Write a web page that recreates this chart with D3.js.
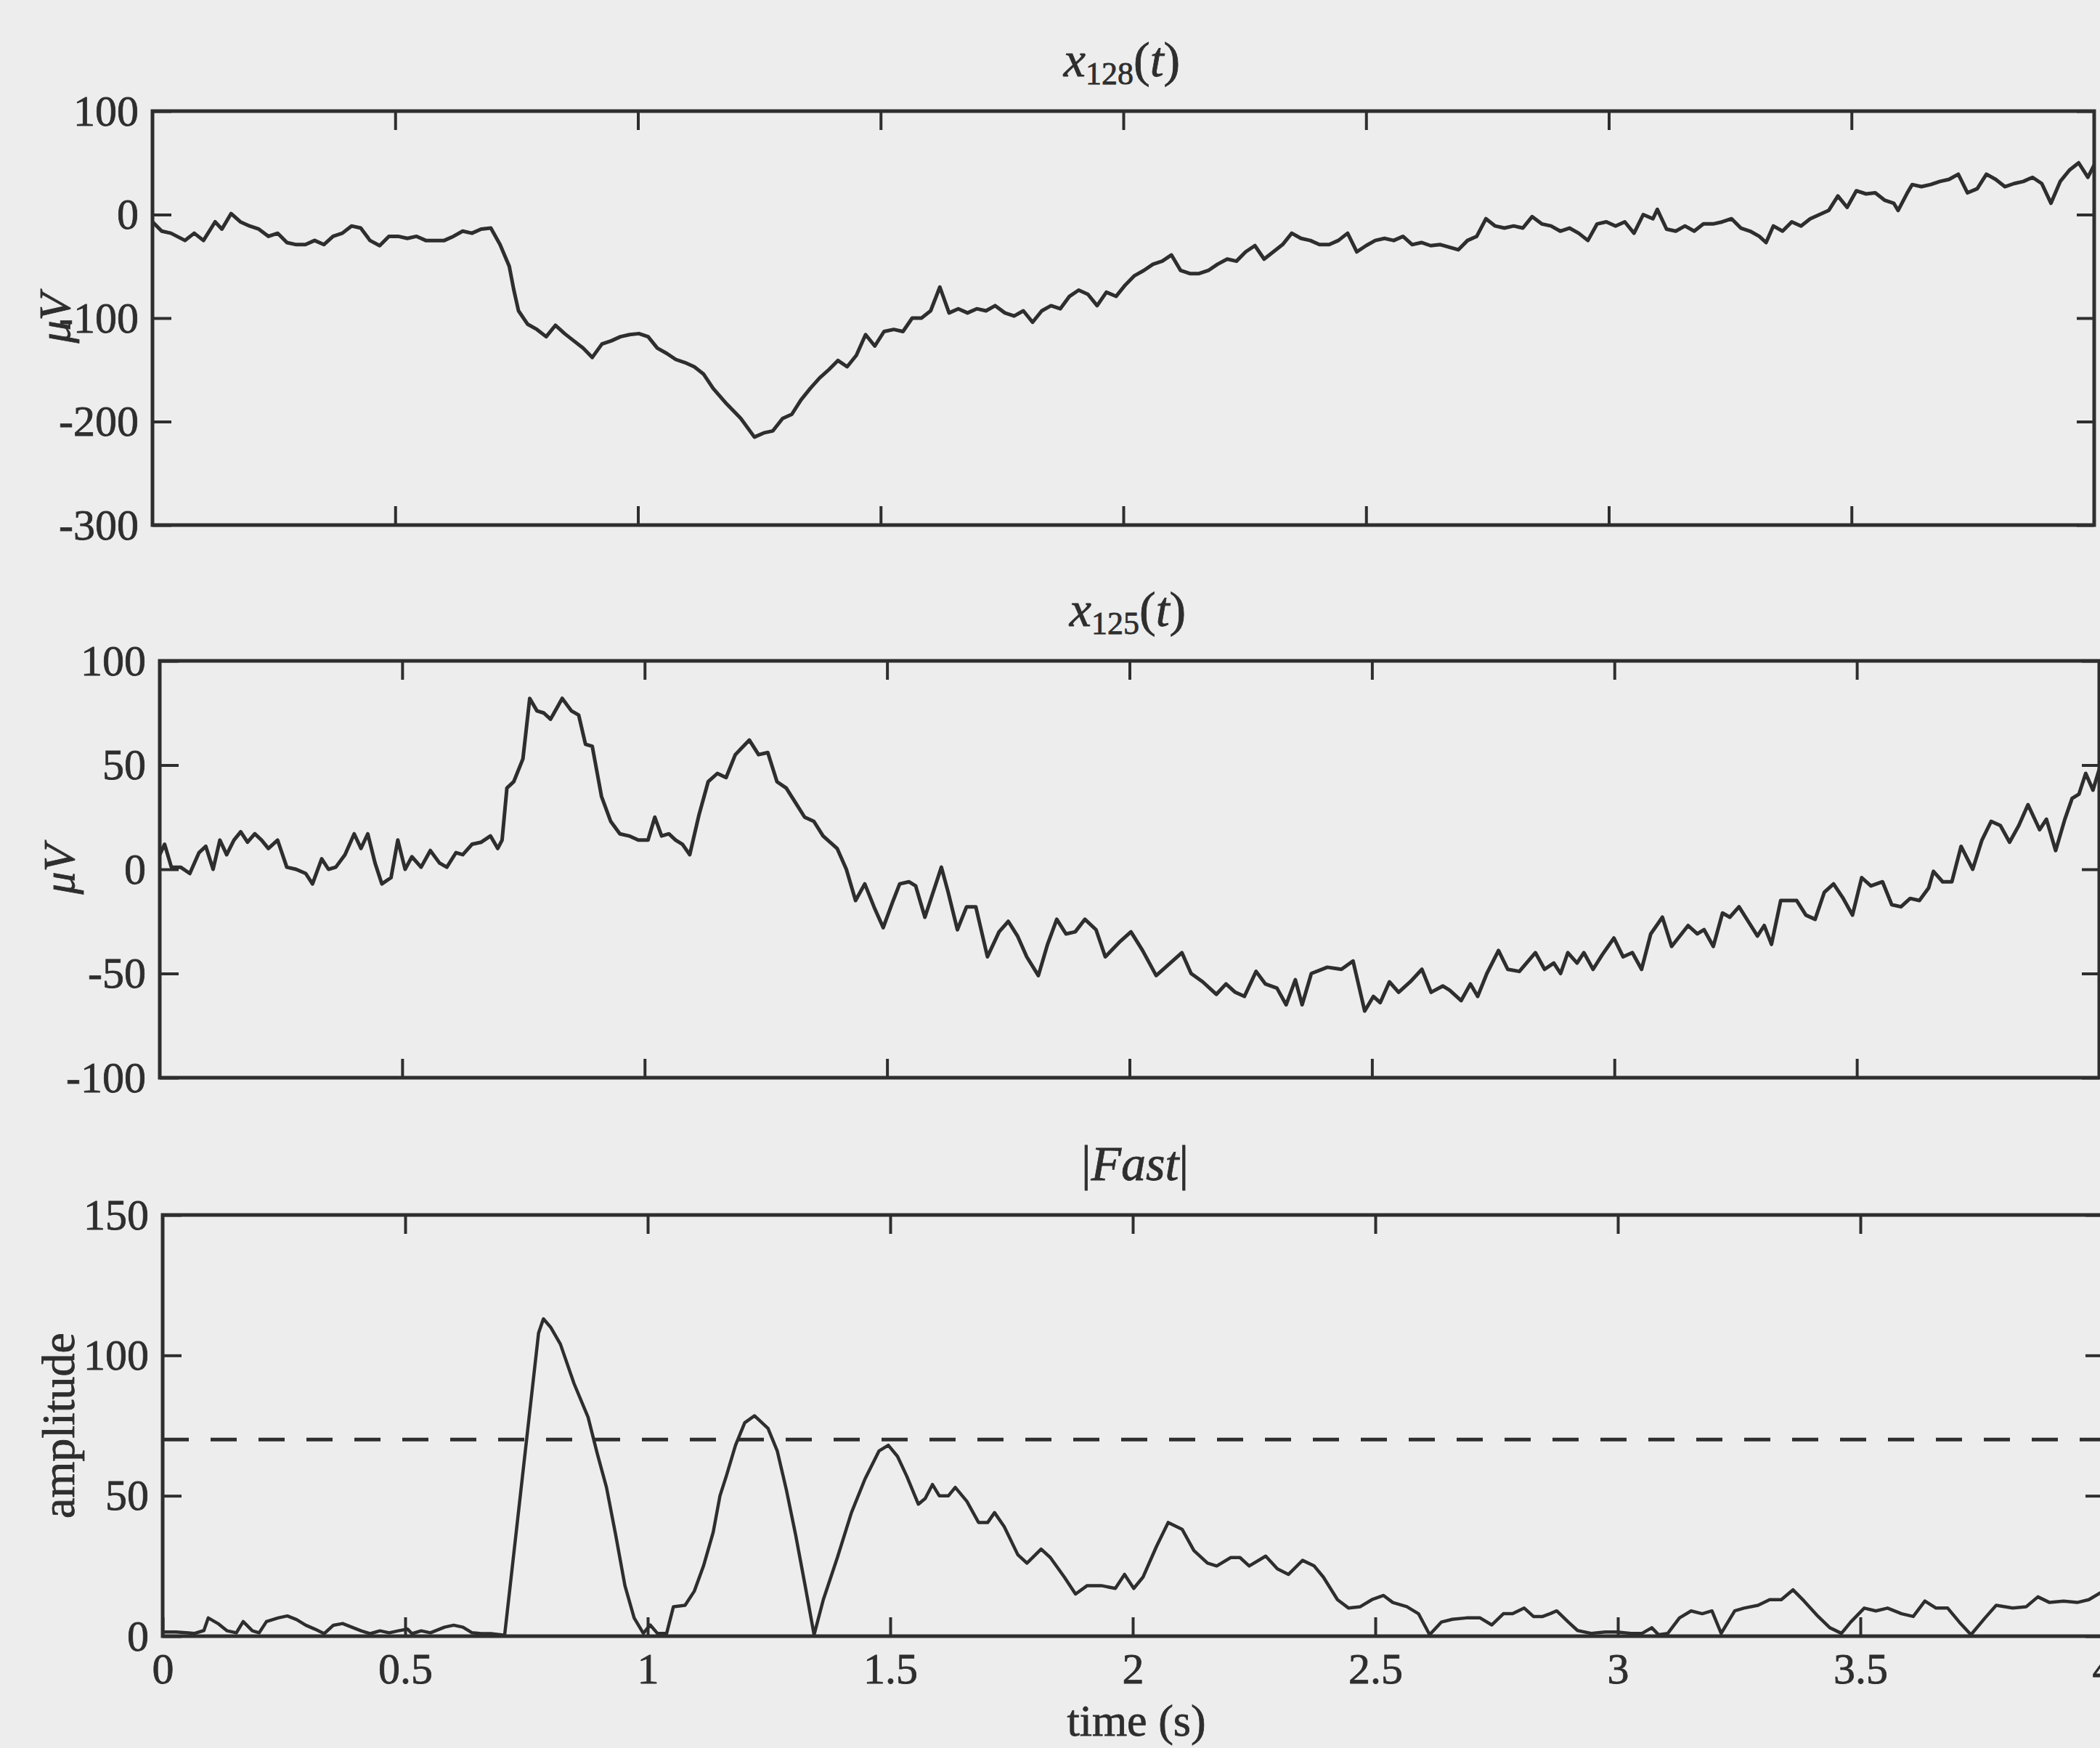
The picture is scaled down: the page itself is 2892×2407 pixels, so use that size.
<!DOCTYPE html>
<html>
<head>
<meta charset="utf-8">
<script src="https://cdn.jsdelivr.net/npm/d3@7"></script>
<style>
  html, body { margin: 0; padding: 0; background: #ededed; }
  svg { display: block; }
</style>
</head>
<body>
<svg id="chart" width="2892" height="2407"></svg>
<script>
// ---- Channel x128(t), microvolts ----
const x128Time = [0,0.019,0.038,0.067,0.086,0.105,0.129,0.143,0.162,0.181,0.2,0.219,0.239,0.258,0.277,0.296,0.315,0.334,0.353,0.372,0.391,0.41,0.429,0.448,0.468,0.487,0.506,0.525,0.544,0.563,0.582,0.601,0.62,0.639,0.658,0.677,0.697,0.716,0.735,0.744,0.754,0.773,0.792,0.811,0.83,0.849,0.868,0.887,0.906,0.926,0.945,0.964,0.983,1.002,1.021,1.04,1.059,1.078,1.097,1.116,1.135,1.155,1.183,1.212,1.24,1.259,1.278,1.298,1.317,1.336,1.355,1.374,1.393,1.412,1.431,1.45,1.469,1.488,1.507,1.527,1.546,1.565,1.584,1.603,1.622,1.641,1.66,1.679,1.698,1.717,1.736,1.756,1.775,1.794,1.813,1.832,1.851,1.87,1.889,1.908,1.927,1.946,1.965,1.985,2.004,2.023,2.042,2.061,2.08,2.099,2.118,2.137,2.156,2.175,2.194,2.214,2.233,2.252,2.271,2.29,2.309,2.328,2.347,2.366,2.385,2.404,2.424,2.443,2.462,2.481,2.5,2.519,2.538,2.557,2.576,2.595,2.614,2.633,2.653,2.69,2.709,2.728,2.747,2.766,2.785,2.804,2.823,2.842,2.862,2.881,2.9,2.919,2.938,2.957,2.976,2.995,3.014,3.033,3.052,3.071,3.091,3.1,3.119,3.138,3.157,3.176,3.195,3.215,3.234,3.253,3.272,3.291,3.31,3.324,3.339,3.358,3.377,3.396,3.415,3.434,3.453,3.472,3.491,3.51,3.53,3.549,3.568,3.587,3.596,3.615,3.625,3.644,3.663,3.682,3.701,3.72,3.739,3.759,3.778,3.797,3.816,3.835,3.854,3.873,3.892,3.911,3.93,3.949,3.968,3.987,4.0];
const x128Values = [-7,-16,-18,-25,-18,-25,-7,-14,1,-7,-11,-14,-21,-18,-27,-29,-29,-25,-29,-21,-18,-11,-13,-25,-30,-21,-21,-23,-21,-25,-25,-25,-21,-16,-18,-14,-13,-29,-50,-72,-93,-106,-111,-118,-107,-115,-122,-129,-138,-125,-122,-118,-116,-115,-118,-129,-134,-140,-143,-147,-154,-168,-183,-197,-215,-211,-209,-197,-193,-179,-168,-158,-150,-141,-147,-136,-116,-127,-113,-111,-113,-100,-100,-93,-70,-95,-91,-95,-91,-93,-88,-95,-98,-93,-104,-93,-88,-91,-79,-73,-77,-88,-75,-79,-68,-59,-54,-48,-45,-39,-54,-57,-57,-54,-48,-43,-45,-36,-30,-43,-36,-29,-18,-23,-25,-29,-29,-25,-18,-36,-30,-25,-23,-25,-21,-29,-27,-30,-29,-34,-25,-21,-4,-11,-13,-11,-13,-2,-9,-11,-16,-13,-18,-25,-9,-7,-11,-7,-18,0,-4,5,-14,-16,-11,-16,-9,-9,-7,-4,-13,-16,-21,-27,-11,-16,-7,-11,-4,0,4,18,7,23,20,21,14,11,4,21,29,27,29,32,34,39,21,25,39,34,27,30,32,36,30,11,32,43,50,36,48];
const x128Ticks = [100, 0, -100, -200, -300];

// ---- Channel x125(t), microvolts ----
const x125Time = [0,0.01,0.024,0.043,0.062,0.081,0.095,0.11,0.124,0.138,0.153,0.167,0.181,0.196,0.21,0.224,0.243,0.262,0.281,0.301,0.315,0.334,0.348,0.363,0.382,0.401,0.415,0.429,0.444,0.458,0.477,0.491,0.506,0.52,0.539,0.558,0.577,0.592,0.611,0.625,0.644,0.663,0.682,0.697,0.706,0.716,0.73,0.749,0.763,0.778,0.792,0.806,0.83,0.849,0.864,0.878,0.892,0.911,0.93,0.949,0.968,0.987,1.007,1.021,1.035,1.05,1.064,1.078,1.093,1.112,1.131,1.15,1.168,1.187,1.216,1.235,1.254,1.273,1.292,1.311,1.33,1.349,1.368,1.397,1.416,1.435,1.454,1.473,1.492,1.511,1.526,1.545,1.559,1.578,1.612,1.626,1.645,1.664,1.683,1.707,1.731,1.75,1.769,1.788,1.812,1.831,1.85,1.869,1.888,1.908,1.931,1.95,1.979,2.003,2.027,2.055,2.084,2.108,2.127,2.151,2.179,2.199,2.218,2.237,2.261,2.28,2.304,2.323,2.342,2.356,2.375,2.408,2.437,2.461,2.485,2.503,2.517,2.536,2.555,2.579,2.603,2.622,2.646,2.66,2.684,2.703,2.718,2.737,2.761,2.78,2.804,2.837,2.856,2.875,2.889,2.904,2.923,2.937,2.956,2.975,2.999,3.018,3.037,3.056,3.075,3.099,3.118,3.152,3.171,3.185,3.204,3.223,3.238,3.257,3.276,3.295,3.309,3.324,3.343,3.362,3.376,3.395,3.414,3.433,3.452,3.472,3.491,3.51,3.529,3.553,3.572,3.591,3.61,3.629,3.648,3.658,3.677,3.696,3.715,3.739,3.758,3.777,3.796,3.815,3.834,3.853,3.877,3.891,3.91,3.929,3.944,3.958,3.972,3.987,4.0];
const x125Values = [7,12,1,1,-2,8,11,0,14,7,14,18,13,17,14,10,14,1,0,-2,-7,5,0,1,7,17,10,17,3,-7,-4,14,0,6,1,9,3,1,8,7,12,13,16,10,14,39,42,53,82,76,75,72,82,76,74,60,59,35,23,17,16,14,14,25,16,17,14,12,7,26,42,46,44,55,62,55,56,42,39,32,25,23,16,10,0,-15,-7,-18,-28,-16,-7,-6,-8,-23,1,-11,-29,-18,-18,-42,-30,-25,-32,-42,-51,-36,-24,-31,-30,-24,-29,-42,-35,-30,-39,-51,-45,-40,-50,-54,-60,-55,-59,-61,-49,-55,-57,-65,-53,-65,-50,-47,-48,-44,-68,-61,-64,-54,-59,-54,-48,-59,-56,-58,-63,-55,-61,-50,-39,-48,-49,-40,-48,-45,-50,-40,-45,-40,-48,-41,-33,-42,-40,-48,-31,-23,-37,-27,-31,-29,-37,-21,-23,-18,-25,-32,-27,-36,-15,-15,-15,-22,-24,-11,-7,-14,-22,-4,-8,-6,-17,-18,-14,-15,-9,-1,-6,-6,11,0,14,23,21,13,21,31,19,24,9,24,34,36,46,38,48];
const x125Ticks = [100, 50, 0, -50, -100];

// ---- |Fast| amplitude envelope ----
const fastTime = [0,0.028,0.066,0.085,0.094,0.114,0.133,0.152,0.166,0.185,0.199,0.214,0.238,0.257,0.276,0.295,0.314,0.333,0.352,0.371,0.39,0.409,0.428,0.448,0.467,0.486,0.505,0.514,0.533,0.552,0.581,0.6,0.619,0.638,0.657,0.677,0.705,0.775,0.785,0.8,0.82,0.848,0.877,0.896,0.915,0.934,0.953,0.972,0.991,1.005,1.02,1.039,1.053,1.077,1.096,1.115,1.135,1.149,1.162,1.181,1.2,1.22,1.248,1.267,1.286,1.305,1.324,1.343,1.362,1.391,1.42,1.448,1.477,1.496,1.515,1.534,1.558,1.572,1.587,1.601,1.62,1.634,1.658,1.682,1.701,1.715,1.735,1.763,1.782,1.811,1.83,1.859,1.882,1.906,1.935,1.964,1.983,2.002,2.021,2.049,2.073,2.102,2.126,2.154,2.173,2.202,2.221,2.24,2.274,2.298,2.321,2.35,2.374,2.393,2.422,2.445,2.469,2.493,2.517,2.536,2.565,2.589,2.612,2.636,2.659,2.688,2.716,2.74,2.764,2.783,2.807,2.826,2.845,2.86,2.874,2.898,2.917,2.945,2.974,2.998,3.027,3.05,3.07,3.084,3.103,3.127,3.151,3.174,3.194,3.213,3.241,3.26,3.289,3.313,3.337,3.361,3.384,3.413,3.437,3.461,3.48,3.508,3.532,3.556,3.585,3.609,3.633,3.656,3.68,3.704,3.728,3.757,3.78,3.814,3.842,3.866,3.89,3.919,3.947,3.971,4.0];
const fastValues = [1.5,1.5,1,2,6.5,4.5,1.9,1.2,5.2,1.9,1.2,5.2,6.5,7.2,5.9,3.9,2.5,0.9,3.9,4.5,3.2,1.9,0.9,1.9,1.2,1.9,2.5,0.9,1.9,1.2,3.2,3.9,3.2,1.2,0.9,0.9,0.3,108,113,110,104,90,78,65,53,36,18,6.5,1,4,1,1,10.5,11,16,25,37,50,57,68,76,78.5,74,66,52,36,18.5,0.5,13,28,44,56,66,68,64,57,47,49,54,50,50,53,48,40.5,40.5,44,39,29,26,31,28,21,15,18,18,17,22,17,21,32,40.5,38,30.5,26,25,28,28,25,28.5,24,22,27,25,21,13,10,10.5,13,14.5,12,10.5,8,0.5,5,6,6.5,6.5,4,8,8,10,7,7,8,9,5,2,1,1.5,1.5,1,1,3,0.5,1,6.5,9,8,9,1,9,10,11,13,13,16.5,12.5,7,3,1,5,10,9,10,8,7,12.5,10,10,5,0.5,6.5,11,10,10.5,14,12,12.5,12,13,16];
const fastTicks = [0, 50, 100, 150];
const fastThreshold = 70;

// ---- shared time axis ----
const timeTicks = [0, 0.5, 1, 1.5, 2, 2.5, 3, 3.5, 4];
const timeTickLabels = ["0", "0.5", "1", "1.5", "2", "2.5", "3", "3.5", "4"];

const INK = "#2e2e2e";
const SERIF = "'Liberation Serif', 'Times New Roman', serif";
const svg = d3.select("#chart");

svg.append("rect").attr("width", 2892).attr("height", 2407).attr("fill", "#ededed");

function drawPanel(p) {
  const x = d3.scaleLinear().domain([0, 4]).range([p.left, p.right]);
  const y = d3.scaleLinear().domain(p.yDomain).range([p.bottom, p.top]);
  const g = svg.append("g");

  const styleAxis = sel => {
    sel.select(".domain").remove();
    sel.selectAll(".tick line").attr("stroke", INK).attr("stroke-width", 4);
    sel.selectAll(".tick text").attr("fill", INK)
      .attr("stroke", INK).attr("stroke-width", 0.8)
      .attr("font-family", SERIF).attr("font-size", 60);
  };

  // inward ticks on all four sides
  g.append("g").attr("transform", `translate(0,${p.bottom})`)
    .call(d3.axisBottom(x).tickValues(p.showTimeLabels ? timeTicks : timeTicks.slice(1, -1))
      .tickSize(-26).tickPadding(22)
      .tickFormat((d, i) => p.showTimeLabels ? timeTickLabels[i] : ""))
    .call(styleAxis);
  g.append("g").attr("transform", `translate(0,${p.top})`)
    .call(d3.axisTop(x).tickValues(timeTicks.slice(1, -1)).tickSize(-26).tickFormat(""))
    .call(styleAxis);
  g.append("g").attr("transform", `translate(${p.left},0)`)
    .call(d3.axisLeft(y).tickValues(p.yTicks).tickSize(-26).tickPadding(19)
      .tickFormat(d => String(d)))
    .call(styleAxis);
  g.append("g").attr("transform", `translate(${p.right},0)`)
    .call(d3.axisRight(y).tickValues(p.yTicks).tickSize(-24).tickFormat(""))
    .call(styleAxis);

  // plot frame
  g.append("rect")
    .attr("x", p.left).attr("y", p.top)
    .attr("width", p.right - p.left).attr("height", p.bottom - p.top)
    .attr("fill", "none").attr("stroke", INK).attr("stroke-width", 5);

  if (p.threshold !== undefined) {
    g.append("line")
      .attr("x1", x(0)).attr("x2", x(4))
      .attr("y1", y(p.threshold)).attr("y2", y(p.threshold))
      .attr("stroke", INK).attr("stroke-width", 5)
      .attr("stroke-dasharray", "36 30");
  }

  const line = d3.line().x(d => x(d[0])).y(d => y(d[1]));
  g.append("path")
    .datum(d3.zip(p.time, p.values))
    .attr("d", line)
    .attr("fill", "none").attr("stroke", INK)
    .attr("stroke-width", p.lineWidth).attr("stroke-linejoin", "round");

  // panel title
  const title = g.append("text")
    .attr("x", p.titleX).attr("y", p.top - 48)
    .attr("text-anchor", "middle")
    .attr("font-family", SERIF).attr("font-size", 68).attr("fill", INK)
    .attr("stroke", INK).attr("stroke-width", 0.8);
  p.title(title);

  // y-axis label, rotated
  g.append("text")
    .attr("transform", `translate(${p.labelX},${(p.top + p.bottom) / 2}) rotate(-90)`)
    .attr("text-anchor", "middle")
    .attr("font-family", SERIF).attr("font-size", p.labelSize).attr("fill", INK)
    .attr("stroke", INK).attr("stroke-width", 0.8)
    .attr("font-style", p.labelItalic ? "italic" : "normal")
    .text(p.yLabel);
}

const subscriptTitle = sub => t => {
  t.append("tspan").attr("font-style", "italic").text("x");
  t.append("tspan").attr("font-size", 44).attr("dy", 11).text(sub);
  t.append("tspan").attr("dy", -11).text("(");
  t.append("tspan").attr("font-style", "italic").text("t");
  t.append("tspan").text(")");
};

drawPanel({
  left: 210, right: 2884, top: 153, bottom: 723,
  yDomain: [-300, 100], yTicks: x128Ticks,
  time: x128Time, values: x128Values, lineWidth: 5,
  titleX: 1545, title: subscriptTitle("128"),
  yLabel: "\u03BCV", labelItalic: true, labelX: 96, labelSize: 62,
  showTimeLabels: false
});

drawPanel({
  left: 220, right: 2891, top: 910, bottom: 1484,
  yDomain: [-100, 100], yTicks: x125Ticks,
  time: x125Time, values: x125Values, lineWidth: 5,
  titleX: 1553, title: subscriptTitle("125"),
  yLabel: "\u03BCV", labelItalic: true, labelX: 102, labelSize: 62,
  showTimeLabels: false
});

drawPanel({
  left: 224, right: 2896, top: 1673, bottom: 2253,
  yDomain: [0, 150], yTicks: fastTicks,
  time: fastTime, values: fastValues, lineWidth: 4.5,
  threshold: fastThreshold,
  titleX: 1563, title: t => {
    t.append("tspan").text("|");
    t.append("tspan").attr("font-style", "italic").text("Fast");
    t.append("tspan").text("|");
  },
  yLabel: "amplitude", labelItalic: false, labelX: 102, labelSize: 64,
  showTimeLabels: true
});

// shared x-axis label
svg.append("text")
  .attr("x", 1565).attr("y", 2390)
  .attr("text-anchor", "middle")
  .attr("font-family", SERIF).attr("font-size", 62).attr("fill", INK)
  .attr("stroke", INK).attr("stroke-width", 0.8)
  .text("time (s)");
</script>
</body>
</html>
